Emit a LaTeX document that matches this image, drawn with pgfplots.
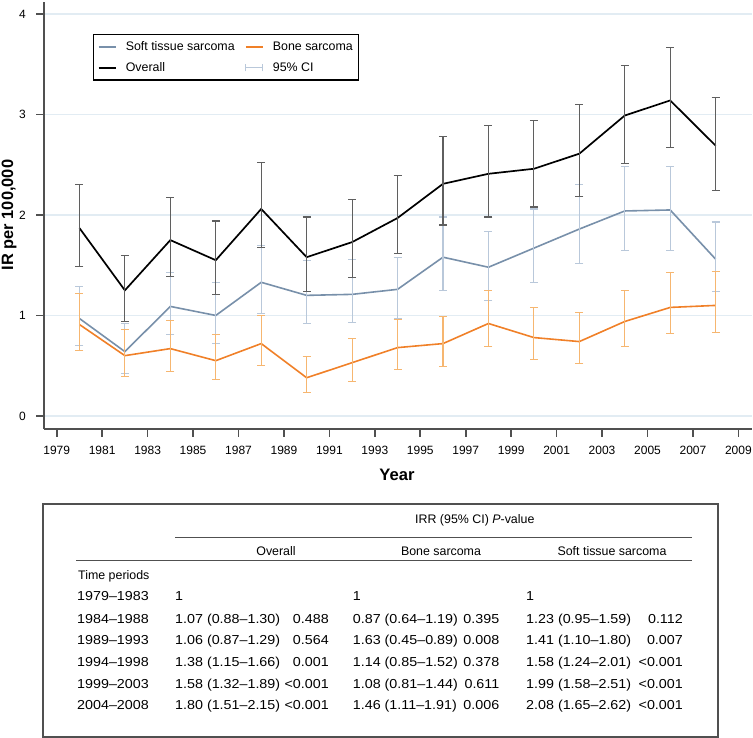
\documentclass[border=0pt]{standalone}
\usepackage{fontspec}
\setmainfont{Liberation Sans}
\usepackage{pgfplots}
\usepackage{pgfplotstable}
\pgfplotsset{compat=1.18}

\definecolor{softcol}{RGB}{120,144,170}
\definecolor{bonecol}{RGB}{240,128,40}
\definecolor{softerr}{RGB}{185,200,218}
\definecolor{boneerr}{RGB}{246,182,112}
\definecolor{overerr}{RGB}{95,95,95}
\definecolor{gridcol}{RGB}{226,236,243}
\definecolor{axiscol}{RGB}{80,80,80}

\pgfplotstableread{
x y lo hi
1980 1.87 1.49 2.30
1982 1.25 0.94 1.60
1984 1.75 1.39 2.17
1986 1.55 1.21 1.94
1988 2.06 1.68 2.52
1990 1.58 1.24 1.98
1992 1.73 1.38 2.15
1994 1.97 1.62 2.39
1996 2.31 1.90 2.78
1998 2.41 1.98 2.89
2000 2.46 2.08 2.94
2002 2.61 2.18 3.10
2004 2.99 2.51 3.49
2006 3.14 2.67 3.67
2008 2.69 2.24 3.17
}\overall

\pgfplotstableread{
x y lo hi
1980 0.97 0.70 1.29
1982 0.64 0.42 0.92
1984 1.09 0.81 1.43
1986 1.00 0.72 1.33
1988 1.33 1.02 1.70
1990 1.20 0.92 1.55
1992 1.21 0.93 1.56
1994 1.26 0.97 1.58
1996 1.58 1.25 1.98
1998 1.48 1.15 1.84
2000 1.67 1.33 2.06
2002 1.86 1.52 2.30
2004 2.04 1.65 2.48
2006 2.05 1.65 2.48
2008 1.56 1.24 1.93
}\soft

\pgfplotstableread{
x y lo hi
1980 0.91 0.65 1.22
1982 0.60 0.39 0.86
1984 0.67 0.44 0.95
1986 0.55 0.36 0.81
1988 0.72 0.50 1.00
1990 0.38 0.23 0.59
1992 0.53 0.34 0.77
1994 0.68 0.46 0.96
1996 0.72 0.49 0.99
1998 0.92 0.69 1.25
2000 0.78 0.56 1.08
2002 0.74 0.52 1.03
2004 0.94 0.69 1.25
2006 1.08 0.82 1.43
2008 1.10 0.83 1.44
}\bone

\newcommand{\tabtxt}{\fontsize{12.4}{14}\selectfont}
\newcommand{\tabnum}{\fontsize{13}{15}\selectfont}
\newcommand{\TL}[3]{\node[anchor=base west, inner sep=0pt, xscale=1.1, font=\tabnum] at (#1,738-#2) {#3};}
\newcommand{\TR}[3]{\node[anchor=base east, inner sep=0pt, xscale=1.1, font=\tabnum] at (#1,738-#2) {#3};}
\newcommand{\TC}[3]{\node[anchor=base, inner sep=0pt, font=\tabtxt] at (#1,738-#2) {#3};}

\begin{document}
\begin{tikzpicture}[x=1pt,y=1pt]
\useasboundingbox (0,0) rectangle (753,738);
\begin{axis}[
  at={(44pt,309pt)}, anchor=south west,
  width=708pt, height=427pt, scale only axis,
  xmin=1978.44, xmax=2009.6, ymin=-0.13, ymax=4.12,
  axis x line*=bottom, axis y line*=left,
  axis line style={line width=1.6pt, color=axiscol, -},
  xtick={1979,1981,...,2009}, ytick={0,1,2,3,4},
  tick align=outside, major tick length=8pt,
  tick style={line width=1.6pt, color=axiscol},
  ymajorgrids, grid style={line width=1.2pt, color=gridcol},
  /pgf/number format/1000 sep={},
  /pgf/number format/assume math mode=true,
  tick label style={font=\fontsize{12}{14}\selectfont},
  yticklabel style={anchor=east, inner sep=0pt},
  yticklabel shift=10pt,
  xticklabel style={yshift=-6pt},
  legend columns=2,
  legend cell align=left,
  legend style={at={(0.0692,0.925)}, anchor=north west, draw=black,
    line width=1.2pt, font=\fontsize{12.4}{14}\selectfont,
    inner xsep=4pt, inner ysep=5pt, row sep=6.5pt,
    /tikz/every odd column/.append style={column sep=7pt},
    /tikz/every even column/.append style={column sep=8pt}},
  legend image code/.code={\draw[#1, line width=2.2pt] (0pt,0pt) -- (17pt,0pt);},
]
\addplot[softcol, line width=1.6pt,
  error bars/y dir=both, error bars/y explicit,
  error bars/error bar style={line width=1.1pt, color=softerr},
  error bars/error mark options={rotate=90, mark size=4pt, line width=1.1pt, color=softerr}]
  table[x=x, y=y, y error plus expr=\thisrow{hi}-\thisrow{y}, y error minus expr=\thisrow{y}-\thisrow{lo}] {\soft};
\addlegendentry{Soft tissue sarcoma}
\addplot[bonecol, line width=1.6pt,
  error bars/y dir=both, error bars/y explicit,
  error bars/error bar style={line width=1.1pt, color=boneerr},
  error bars/error mark options={rotate=90, mark size=4pt, line width=1.1pt, color=boneerr}]
  table[x=x, y=y, y error plus expr=\thisrow{hi}-\thisrow{y}, y error minus expr=\thisrow{y}-\thisrow{lo}] {\bone};
\addlegendentry{Bone sarcoma}
\addplot[black, line width=1.7pt,
  error bars/y dir=both, error bars/y explicit,
  error bars/error bar style={line width=1.1pt, color=overerr},
  error bars/error mark options={rotate=90, mark size=4pt, line width=1.1pt, color=overerr}]
  table[x=x, y=y, y error plus expr=\thisrow{hi}-\thisrow{y}, y error minus expr=\thisrow{y}-\thisrow{lo}] {\overall};
\addlegendentry{Overall}
\addlegendimage{legend image code/.code={
  \draw[softerr, line width=1.1pt] (0pt,0pt) -- (17pt,0pt);
  \draw[softerr, line width=1.1pt] (0pt,-3.5pt) -- (0pt,3.5pt) (17pt,-3.5pt) -- (17pt,3.5pt);}}
\addlegendentry{95\% CI}
\end{axis}

% axis titles
\node[rotate=90, font=\bfseries\fontsize{16.4}{18}\selectfont, inner sep=0pt] at (9,738-215) {IR per 100,000};
\node[font=\bfseries\fontsize{16.6}{18}\selectfont, inner sep=0pt] at (397,738-475) {Year};

% table
\draw[line width=1.2pt, color=axiscol] (43,738-737) rectangle (718,738-504);
\draw[line width=1.1pt, color=axiscol] (175,738-537.7) -- (692,738-537.7);
\draw[line width=1.1pt, color=axiscol] (76,738-560.7) -- (692,738-560.7);
\node[anchor=base west, inner sep=0pt, font=\tabtxt] at (415,738-523.3) {IRR (95\% CI) \textit{P}-value};
\TC{276}{555.7}{Overall}
\TC{441}{555.7}{Bone sarcoma}
\TC{612}{555.7}{Soft tissue sarcoma}
\node[anchor=base west, inner sep=0pt, font=\tabtxt] at (78,738-579.3) {Time periods};

\TL{77}{601}{1979–1983}
\TL{175}{601}{1}
\TL{352.7}{601}{1}
\TL{526}{601}{1}

\TL{77}{623.3}{1984–1988}
\TL{175}{623.3}{1.07 (0.88–1.30)}
\TR{329}{623.3}{0.488}
\TL{352.7}{623.3}{0.87 (0.64–1.19)}
\TR{499.5}{623.3}{0.395}
\TL{526}{623.3}{1.23 (0.95–1.59)}
\TR{683}{623.3}{0.112}

\TL{77}{645}{1989–1993}
\TL{175}{645}{1.06 (0.87–1.29)}
\TR{329}{645}{0.564}
\TL{352.7}{645}{1.63 (0.45–0.89)}
\TR{499.5}{645}{0.008}
\TL{526}{645}{1.41 (1.10–1.80)}
\TR{683}{645}{0.007}

\TL{77}{666.7}{1994–1998}
\TL{175}{666.7}{1.38 (1.15–1.66)}
\TR{329}{666.7}{0.001}
\TL{352.7}{666.7}{1.14 (0.85–1.52)}
\TR{499.5}{666.7}{0.378}
\TL{526}{666.7}{1.58 (1.24–2.01)}
\TR{683}{666.7}{<0.001}

\TL{77}{688.3}{1999–2003}
\TL{175}{688.3}{1.58 (1.32–1.89)}
\TR{329}{688.3}{<0.001}
\TL{352.7}{688.3}{1.08 (0.81–1.44)}
\TR{499.5}{688.3}{0.611}
\TL{526}{688.3}{1.99 (1.58–2.51)}
\TR{683}{688.3}{<0.001}

\TL{77}{710}{2004–2008}
\TL{175}{710}{1.80 (1.51–2.15)}
\TR{329}{710}{<0.001}
\TL{352.7}{710}{1.46 (1.11–1.91)}
\TR{499.5}{710}{0.006}
\TL{526}{710}{2.08 (1.65–2.62)}
\TR{683}{710}{<0.001}
\end{tikzpicture}
\end{document}
